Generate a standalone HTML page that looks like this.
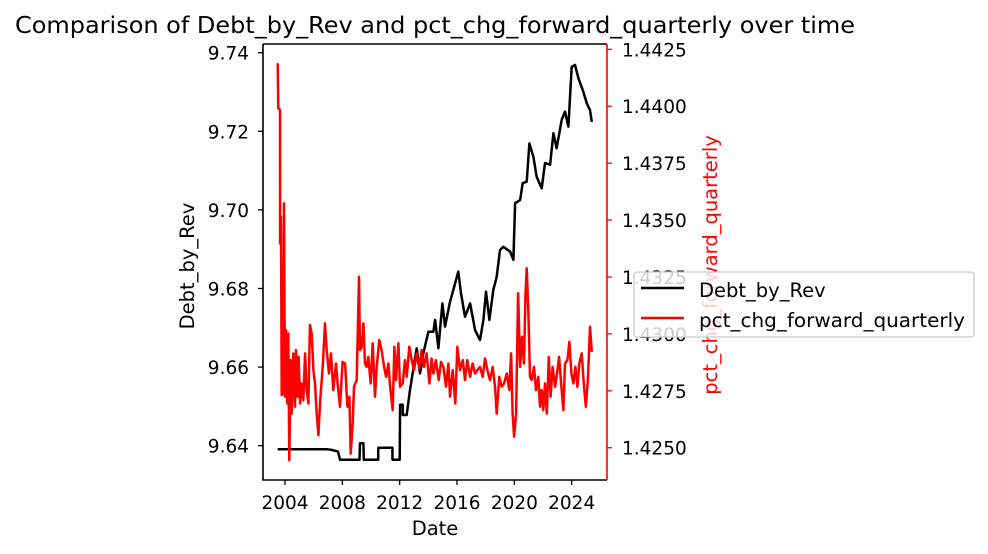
<!DOCTYPE html>
<html><head><meta charset="utf-8"><style>
html,body{margin:0;padding:0;background:#fff;}
svg{display:block;font-family:"DejaVu Sans","Liberation Sans",sans-serif;}
</style></head><body>
<svg id="chart" width="988" height="554" viewBox="0 0 988 554">
<rect width="988" height="554" fill="#fff"/>
<text x="435" y="33" font-size="23.5" text-anchor="middle" fill="#000" textLength="840" lengthAdjust="spacingAndGlyphs">Comparison of Debt_by_Rev and pct_chg_forward_quarterly over time</text>
<g id="plot"></g>
<text x="435" y="535" font-size="19.5" text-anchor="middle">Date</text>
<text transform="translate(194,266) rotate(-90)" font-size="19.5" text-anchor="middle">Debt_by_Rev</text>
<text transform="translate(717,265) rotate(-90)" font-size="19.5" text-anchor="middle" fill="#ff0000">pct_chg_forward_quarterly</text>
<g>
<rect x="634" y="272" width="340" height="65" rx="3" fill="#fff" fill-opacity="0.8" stroke="#ccc" stroke-width="1.3"/>
<line x1="641" y1="288" x2="684" y2="288" stroke="#000" stroke-width="2.5"/>
<text x="699" y="297" font-size="19.5">Debt_by_Rev</text>
<line x1="641" y1="318" x2="684" y2="318" stroke="#ff0000" stroke-width="2.5"/>
<text x="699" y="327" font-size="19.5" textLength="266" lengthAdjust="spacingAndGlyphs">pct_chg_forward_quarterly</text>
</g>
</svg>
<script>
const xTicks = [2004, 2008, 2012, 2016, 2020, 2024];
const leftTicks = [9.64, 9.66, 9.68, 9.70, 9.72, 9.74];
const rightTicks = [1.4250, 1.4275, 1.4300, 1.4325, 1.4350, 1.4375, 1.4400, 1.4425];
const debtDates = [2003.49,2006.91,2007.3,2007.7,2007.84,2009.2,2009.23,2009.47,2009.5,2010.5,2010.51,2011.49,2011.5,2012.0,2012.03,2012.21,2012.22,2012.49,2012.72,2013.19,2013.42,2013.65,2014.0,2014.35,2014.47,2014.7,2014.98,2015.16,2015.51,2015.74,2016.09,2016.28,2016.56,2016.91,2017.26,2017.6,2017.84,2018.02,2018.26,2018.53,2018.77,2019.0,2019.23,2019.7,2019.93,2020.05,2020.4,2020.58,2020.86,2021.05,2021.33,2021.56,2021.91,2022.14,2022.49,2022.72,2022.95,2023.3,2023.53,2023.77,2024.0,2024.23,2024.47,2024.81,2025.05,2025.28,2025.4];
const debtValues = [9.6391,9.6391,9.6389,9.6385,9.6364,9.6364,9.6406,9.6406,9.6364,9.6364,9.6395,9.6395,9.6364,9.6364,9.6504,9.6504,9.6478,9.6478,9.6542,9.6648,9.6584,9.6635,9.6690,9.6690,9.6720,9.6648,9.6762,9.6703,9.6766,9.6796,9.6843,9.6788,9.6728,9.6762,9.6694,9.6669,9.6720,9.6792,9.6720,9.6796,9.6830,9.6898,9.6906,9.6894,9.6873,9.7017,9.7025,9.7068,9.7072,9.7169,9.7135,9.7084,9.7055,9.7119,9.7115,9.7195,9.7157,9.7229,9.7250,9.7212,9.7364,9.7369,9.7335,9.7301,9.7271,9.7254,9.7224];
const pctDates = [2003.49,2003.53,2003.65,2003.66,2003.72,2003.77,2003.88,2003.93,2004.0,2004.07,2004.16,2004.23,2004.30,2004.40,2004.47,2004.58,2004.70,2004.77,2004.88,2004.95,2005.05,2005.16,2005.28,2005.40,2005.51,2005.63,2005.74,2005.86,2005.98,2006.09,2006.21,2006.33,2006.44,2006.63,2006.79,2006.91,2007.07,2007.21,2007.37,2007.56,2007.67,2007.84,2008.02,2008.19,2008.35,2008.49,2008.58,2008.72,2008.81,2009.0,2009.16,2009.23,2009.35,2009.47,2009.58,2009.70,2009.81,2009.98,2010.12,2010.28,2010.40,2010.58,2010.74,2010.91,2011.05,2011.21,2011.33,2011.51,2011.63,2011.74,2011.91,2012.02,2012.21,2012.37,2012.49,2012.67,2012.84,2013.0,2013.19,2013.37,2013.53,2013.70,2013.88,2014.07,2014.23,2014.35,2014.53,2014.72,2014.88,2015.05,2015.23,2015.40,2015.51,2015.70,2015.88,2016.02,2016.21,2016.40,2016.56,2016.72,2016.91,2017.09,2017.26,2017.42,2017.60,2017.79,2017.95,2018.12,2018.30,2018.49,2018.65,2018.77,2018.95,2019.12,2019.28,2019.47,2019.65,2019.77,2019.88,2019.98,2020.12,2020.26,2020.40,2020.53,2020.67,2020.77,2020.86,2020.98,2021.09,2021.21,2021.37,2021.51,2021.67,2021.79,2021.91,2022.02,2022.14,2022.26,2022.40,2022.53,2022.67,2022.84,2022.95,2023.12,2023.26,2023.42,2023.53,2023.70,2023.84,2023.98,2024.12,2024.26,2024.40,2024.53,2024.70,2024.86,2024.99,2025.14,2025.28,2025.40];
const pctValues = [1.44189,1.43991,1.43984,1.43397,1.43515,1.42731,1.42738,1.43573,1.42724,1.43017,1.42694,1.43002,1.42445,1.42885,1.42650,1.42914,1.42680,1.42929,1.42724,1.42899,1.42694,1.42782,1.42709,1.42914,1.42753,1.42694,1.43039,1.43002,1.42841,1.42782,1.42650,1.42555,1.42694,1.42855,1.43046,1.42929,1.42826,1.42914,1.42753,1.42870,1.42782,1.42680,1.42877,1.42870,1.42680,1.42724,1.42474,1.42606,1.42768,1.42797,1.43251,1.42929,1.42943,1.43046,1.42870,1.42855,1.42899,1.42782,1.42958,1.42724,1.42855,1.42973,1.42929,1.42855,1.42811,1.42870,1.42768,1.42665,1.42943,1.42797,1.42958,1.42768,1.42782,1.42885,1.42811,1.42943,1.42885,1.42841,1.42914,1.42848,1.42929,1.42855,1.42914,1.42782,1.42892,1.42826,1.42885,1.42797,1.42877,1.42855,1.42768,1.42870,1.42724,1.42841,1.42694,1.42943,1.42841,1.42885,1.42797,1.42885,1.42811,1.42870,1.42826,1.42841,1.42855,1.42811,1.42892,1.42841,1.42797,1.42855,1.42768,1.42650,1.42811,1.42768,1.42782,1.42826,1.42753,1.42914,1.42650,1.42548,1.42650,1.43178,1.42855,1.42987,1.42870,1.43163,1.43288,1.43090,1.42811,1.42797,1.42855,1.42753,1.42811,1.42680,1.42753,1.42665,1.42782,1.42650,1.42899,1.42724,1.42855,1.42768,1.42811,1.42899,1.42782,1.42665,1.42870,1.42885,1.42965,1.42826,1.42782,1.42855,1.42768,1.42870,1.42914,1.42768,1.42680,1.42811,1.43031,1.42921];

const L = 263, R = 607, T = 44, B = 480;
function xs(yr){ return 285 + (yr - 2004) * (571.7 - 285) / 20; }
function yl(v){ return 445.7 + (v - 9.64) * (52.7 - 445.7) / 0.10; }
function yr(v){ return 447.7 + (v - 1.425) * (49.3 - 447.7) / 0.0175; }
const NS = 'http://www.w3.org/2000/svg';
const plot = document.getElementById('plot');
function mk(tag, attrs, parent){
  const e = document.createElementNS(NS, tag);
  for (const k in attrs) e.setAttribute(k, attrs[k]);
  (parent || plot).appendChild(e);
  return e;
}
let d1 = debtDates.map((t,i)=>(i?'L':'M')+xs(t).toFixed(1)+','+yl(debtValues[i]).toFixed(1)).join('');
const p1 = mk('path', {d:d1, fill:'none', stroke:'#000', 'stroke-width':2.5, 'stroke-linejoin':'round'});


let d2 = pctDates.map((t,i)=>(i?'L':'M')+xs(t).toFixed(1)+','+yr(pctValues[i]).toFixed(1)).join('');
const p2 = mk('path', {d:d2, fill:'none', stroke:'#ff0000', 'stroke-width':2.5, 'stroke-linejoin':'round'});


const sp = mk('path', {d:`M${L},${T}H${R}M${L},${T}V${B}H${R}`, fill:'none', stroke:'#000', 'stroke-width':1.6});


const rs = mk('line', {x1:R, y1:T, x2:R, y2:B, stroke:'#ff0000', 'stroke-width':1.6});


xTicks.forEach(t=>{
  const x = xs(t);
  const tk = mk('line', {x1:x, y1:B, x2:x, y2:B+5, stroke:'#000', 'stroke-width':1.3});
  
  
  const lb = mk('text', {x:x, y:B+29, 'font-size':18.5, 'text-anchor':'middle'});
  lb.textContent = t;
  
  
});
leftTicks.forEach(v=>{
  const y = yl(v);
  const tk = mk('line', {x1:L-5, y1:y, x2:L, y2:y, stroke:'#000', 'stroke-width':1.3});
  
  
  const lb = mk('text', {x:L-14, y:y+7, 'font-size':18.5, 'text-anchor':'end'});
  lb.textContent = v.toFixed(2);
  
  
});
rightTicks.forEach(v=>{
  const y = yr(v);
  const tk = mk('line', {x1:R, y1:y, x2:R+5, y2:y, stroke:'#ff0000', 'stroke-width':1.3});
  
  
  const lb = mk('text', {x:R+15, y:y+7, 'font-size':18.5});
  lb.textContent = v.toFixed(4);
  
  
});
</script>
</body></html>
